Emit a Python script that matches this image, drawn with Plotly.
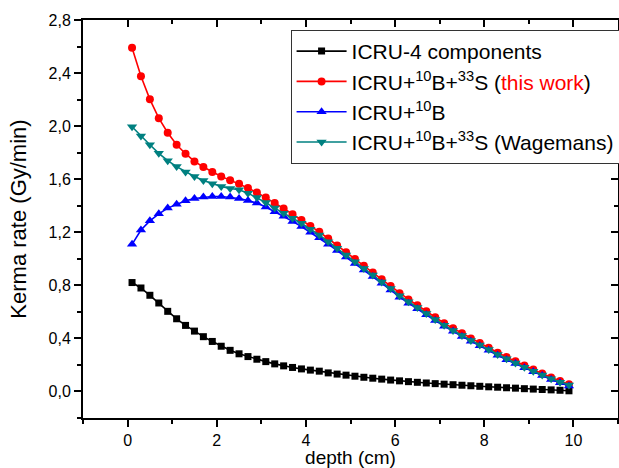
import plotly.graph_objects as go

# depth grid (cm)
depth = [round(0.1 + 0.2 * i, 1) for i in range(50)]

# Kerma rate (Gy/min) per model
icru4 = [0.821, 0.780, 0.725, 0.667, 0.604, 0.548, 0.498, 0.455, 0.413, 0.377,
         0.341, 0.310, 0.284, 0.263, 0.243, 0.225, 0.208, 0.193, 0.181, 0.170,
         0.161, 0.153, 0.140, 0.131, 0.123, 0.115, 0.107, 0.100, 0.093, 0.086,
         0.080, 0.074, 0.069, 0.064, 0.059, 0.055, 0.051, 0.047, 0.043, 0.039,
         0.035, 0.032, 0.028, 0.025, 0.021, 0.018, 0.015, 0.012, 0.009, 0.005]

this_work = [2.590, 2.376, 2.202, 2.060, 1.950, 1.860, 1.792, 1.734, 1.692, 1.654,
             1.620, 1.593, 1.566, 1.533, 1.500, 1.462, 1.420, 1.380, 1.336, 1.293,
             1.248, 1.203, 1.153, 1.100, 1.050, 0.998, 0.947, 0.896, 0.845, 0.795,
             0.741, 0.694, 0.650, 0.604, 0.560, 0.515, 0.476, 0.438, 0.399, 0.366,
             0.330, 0.292, 0.259, 0.228, 0.195, 0.165, 0.136, 0.106, 0.079, 0.055]

boron = [1.109, 1.217, 1.286, 1.339, 1.382, 1.412, 1.437, 1.455, 1.465, 1.470,
         1.470, 1.465, 1.455, 1.440, 1.420, 1.390, 1.355, 1.320, 1.282, 1.243,
         1.200, 1.158, 1.110, 1.062, 1.013, 0.964, 0.915, 0.866, 0.815, 0.765,
         0.711, 0.665, 0.623, 0.578, 0.535, 0.491, 0.453, 0.415, 0.378, 0.345,
         0.310, 0.273, 0.240, 0.210, 0.178, 0.148, 0.120, 0.091, 0.065, 0.042]

wagemans = [1.995, 1.925, 1.860, 1.795, 1.740, 1.695, 1.655, 1.620, 1.590, 1.566,
            1.545, 1.530, 1.520, 1.495, 1.462, 1.424, 1.382, 1.344, 1.306, 1.268,
            1.223, 1.180, 1.129, 1.079, 1.028, 0.977, 0.927, 0.877, 0.826, 0.776,
            0.722, 0.676, 0.632, 0.587, 0.543, 0.499, 0.460, 0.422, 0.385, 0.351,
            0.316, 0.279, 0.246, 0.215, 0.183, 0.153, 0.125, 0.096, 0.070, 0.048]

series = [
    ("ICRU-4 components", icru4, "#000000", "square", 7),
    ("ICRU+<sup>10</sup>B+<sup>33</sup>S (<span style='color:#ff0000'>this work</span>)",
     this_work, "#ff0000", "circle", 8),
    ("ICRU+<sup>10</sup>B", boron, "#0000ff", "triangle-up", 9),
    ("ICRU+<sup>10</sup>B+<sup>33</sup>S (Wagemans)", wagemans, "#008080", "triangle-down", 9),
]

FONT = "Liberation Sans, Arial, sans-serif"

fig = go.Figure()
for i, (name, vals, color, symbol, size) in enumerate(series):
    fig.add_trace(go.Scatter(
        x=depth, y=vals, name=name, mode="lines+markers",
        legendgroup=f"g{i}",
        line=dict(color=color, width=1.6),
        marker=dict(symbol=symbol, size=size, color=color, line=dict(width=0)),
    ))

# empty trace so the mirrored (inward-tick) axes are drawn
fig.add_trace(go.Scatter(x=[], y=[], xaxis="x2", yaxis="y2", showlegend=False))

XR = [-1, 11]
YR = [-0.2, 2.8]

fig.update_layout(
    width=619, height=468,
    margin=dict(l=83, r=1, t=20, b=50, autoexpand=False),
    plot_bgcolor="white", paper_bgcolor="white",
    separators=",.",
    font=dict(family=FONT, color="black", size=16),
    showlegend=True,
    legend=dict(
        x=0.388, y=0.975, xanchor="left", yanchor="top",
        bgcolor="white", bordercolor="#333333", borderwidth=1,
        font=dict(family=FONT, size=21, color="black"),
        tracegroupgap=0,
        itemwidth=50,
    ),
    xaxis=dict(
        range=XR, dtick=2, tick0=0, showgrid=False, zeroline=False,
        showline=True, linecolor="black", linewidth=2, mirror=True,
        ticks="outside", ticklen=7, tickwidth=2, tickcolor="black",
        minor=dict(dtick=1, ticks="outside", ticklen=4, tickwidth=2, tickcolor="black"),
        tickfont=dict(size=16),
        title=dict(text="depth (cm)", font=dict(size=19), standoff=6),
        automargin=False,
    ),
    yaxis=dict(
        range=YR, dtick=0.4, tick0=0, tickformat=".1f", showgrid=False, zeroline=False,
        showline=True, linecolor="black", linewidth=2, mirror=True,
        ticks="outside", ticklen=7, tickwidth=2, tickcolor="black",
        minor=dict(dtick=0.2, ticks="outside", ticklen=4, tickwidth=2, tickcolor="black"),
        tickfont=dict(size=16),
        title=dict(text="Kerma rate (Gy/min)", font=dict(size=22), standoff=16),
        automargin=False,
    ),
    xaxis2=dict(
        range=XR, dtick=2, tick0=0, overlaying="x", side="top", anchor="y",
        showgrid=False, zeroline=False, showticklabels=False, showline=False,
        ticks="inside", ticklen=7, tickwidth=2, tickcolor="black",
        minor=dict(dtick=1, ticks="inside", ticklen=4, tickwidth=2, tickcolor="black"),
    ),
    yaxis2=dict(
        range=YR, dtick=0.4, tick0=0, overlaying="y", side="right", anchor="x",
        showgrid=False, zeroline=False, showticklabels=False, showline=False,
        ticks="inside", ticklen=7, tickwidth=2, tickcolor="black",
        minor=dict(dtick=0.2, ticks="inside", ticklen=4, tickwidth=2, tickcolor="black"),
    ),
)

fig.write_html("out.html")
